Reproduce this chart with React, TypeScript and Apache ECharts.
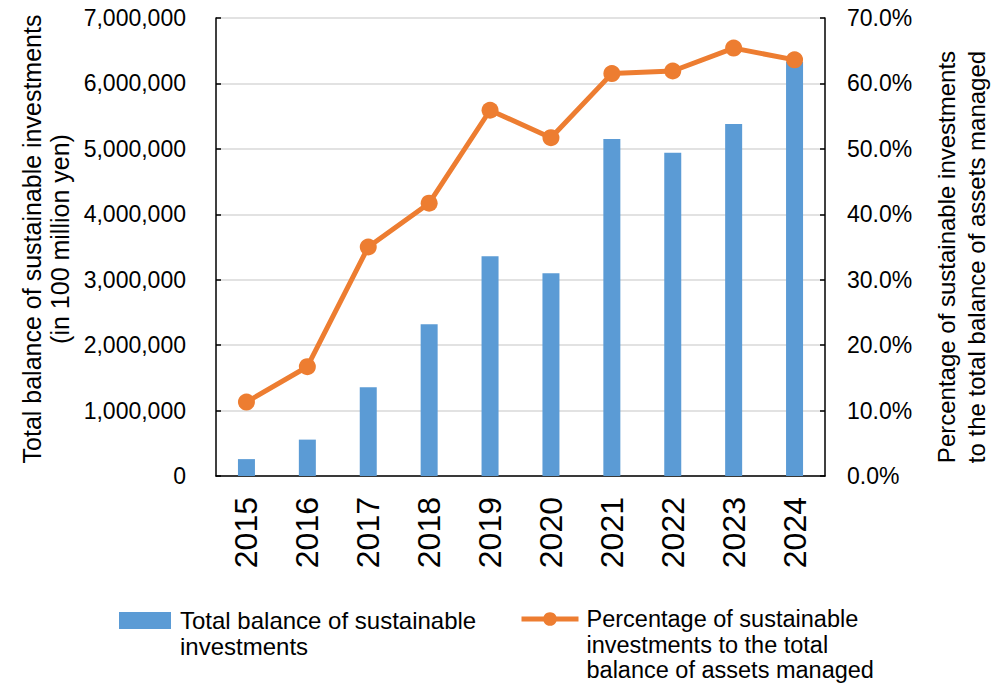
import React, { useEffect, useRef } from "react";
import * as echarts from "echarts";

const years = ["2015", "2016", "2017", "2018", "2019", "2020", "2021", "2022", "2023", "2024"];
const balance = [258000, 556000, 1358000, 2320000, 3360000, 3100000, 5150000, 4940000, 5380000, 6330000];
const percentage = [11.3, 16.7, 35.0, 41.7, 55.9, 51.7, 61.5, 61.9, 65.4, 63.6];

const barName = "Total balance of sustainable investments";
const lineName = "Percentage of sustainable investments to the total balance of assets managed";
const barLegendLines = ["Total balance of sustainable", "investments"];
const lineLegendLines = ["Percentage of sustainable", "investments to the total", "balance of assets managed"];
const leftTitle = "Total balance of sustainable investments\n(in 100 million yen)";
const rightTitle = "Percentage of sustainable investments\nto the total balance of assets managed";

const FONT = "'Liberation Sans', Arial, Helvetica, sans-serif";
const LH = 25.5;

// Legend text is centred on the icon; pad with blank lines on top so the
// first real line sits beside the icon.
const padTop = (lines: string[]) => new Array(lines.length - 1).fill("").concat(lines).join("\n");

export default function App() {
  const ref = useRef<HTMLDivElement>(null);
  useEffect(() => {
    if (!ref.current) return;
    const chart = echarts.init(ref.current, undefined, { renderer: "svg" });
    const icon1Center = 620.5;
    const icon2Center = 619;
    const n1 = barLegendLines.length * 2 - 1;
    const n2 = lineLegendLines.length * 2 - 1;
    chart.setOption({
      animation: false,
      textStyle: { fontFamily: FONT, color: "#000" },
      grid: { left: 216, right: 175, top: 18, bottom: 208, containLabel: false },
      legend: [
        {
          data: [{ name: barName, icon: "rect" }],
          left: 119,
          top: icon1Center - (n1 * LH) / 2,
          padding: 0,
          itemWidth: 52,
          itemHeight: 17,
          selectedMode: false,
          formatter: () => padTop(barLegendLines),
          textStyle: { fontSize: 24, color: "#000", lineHeight: LH, padding: [0, 0, 0, 4], fontFamily: FONT },
        },
        {
          data: [lineName],
          left: 519,
          top: icon2Center - (n2 * LH) / 2,
          padding: 0,
          itemWidth: 57,
          itemHeight: 17,
          selectedMode: false,
          lineStyle: { width: 5, color: "#ED7D31" },
          formatter: () => padTop(lineLegendLines),
          textStyle: { fontSize: 23.5, color: "#000", lineHeight: LH, padding: [0, 0, 0, 3], fontFamily: FONT },
        },
      ],
      xAxis: {
        type: "category",
        data: years,
        boundaryGap: true,
        axisLine: { show: true, lineStyle: { color: "#000", width: 1.5 } },
        axisTick: { show: false },
        axisLabel: { rotate: 90, fontSize: 32, margin: 21, color: "#000", fontFamily: FONT },
        splitLine: { show: false },
      },
      yAxis: [
        {
          type: "value",
          min: 0,
          max: 7000000,
          interval: 1000000,
          axisLine: { show: true, lineStyle: { color: "#000", width: 1.5 } },
          axisTick: { show: true, inside: true, length: 5, lineStyle: { color: "#000", width: 1.5 } },
          axisLabel: {
            fontSize: 23,
            margin: 30,
            color: "#000",
            fontFamily: FONT,
            formatter: (v: number) => v.toLocaleString("en-US"),
          },
          splitLine: { show: true, lineStyle: { color: "#D9D9D9", width: 1.5 } },
        },
        {
          type: "value",
          min: 0,
          max: 70,
          interval: 10,
          position: "right",
          axisLine: { show: true, lineStyle: { color: "#000", width: 1.5 } },
          axisTick: { show: true, inside: true, length: 5, lineStyle: { color: "#000", width: 1.5 } },
          axisLabel: {
            fontSize: 23,
            margin: 22,
            color: "#000",
            fontFamily: FONT,
            formatter: (v: number) => v.toFixed(1) + "%",
          },
          splitLine: { show: false },
        },
      ],
      series: [
        {
          name: barName,
          type: "bar",
          yAxisIndex: 0,
          data: balance,
          barWidth: 17,
          itemStyle: { color: "#5B9BD5" },
          z: 2,
        },
        {
          name: lineName,
          type: "line",
          yAxisIndex: 1,
          data: percentage,
          symbol: "circle",
          symbolSize: 17,
          lineStyle: { color: "#ED7D31", width: 5 },
          itemStyle: { color: "#ED7D31" },
          z: 3,
        },
      ],
      graphic: [
        {
          type: "text",
          x: 46,
          y: 239,
          rotation: Math.PI / 2,
          style: {
            text: leftTitle,
            fontSize: 25,
            fontFamily: FONT,
            fill: "#000",
            align: "center",
            verticalAlign: "middle",
            lineHeight: 28,
          },
        },
        {
          type: "text",
          x: 961,
          y: 257,
          rotation: Math.PI / 2,
          style: {
            text: rightTitle,
            fontSize: 24,
            fontFamily: FONT,
            fill: "#000",
            align: "center",
            verticalAlign: "middle",
            lineHeight: 30,
          },
        },
      ],
    });
    return () => chart.dispose();
  }, []);
  return (
    <div
      ref={ref}
      style={{ position: "fixed", left: 0, top: 0, width: 1000, height: 684, background: "#fff" }}
    />
  );
}
